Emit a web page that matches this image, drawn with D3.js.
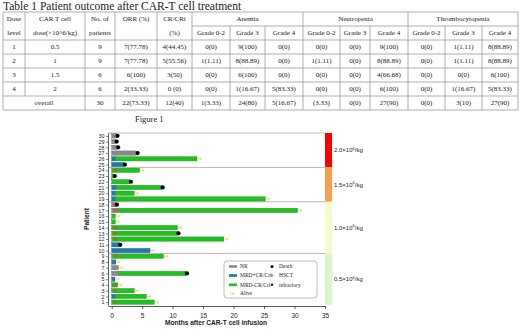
<!DOCTYPE html>
<html>
<head>
<meta charset="utf-8">
<script src="https://cdn.jsdelivr.net/npm/d3@7"></script>
<style>
body { margin: 0; background: #fff; }
svg { display: block; }
.serif { font-family: "Liberation Serif", "Times New Roman", serif; fill: #222; }
.sans { font-family: "Liberation Sans", Arial, sans-serif; fill: #222; }
</style>
</head>
<body>
<div id="chart"></div>
<script>
// ---- table data ----
var tableTitle = "Table 1 Patient outcome after CAR-T cell treatment";
var headTop = ["Dose", "CAR T cell", "No. of", "ORR (%)", "CR/CRi"];
var headBottom = ["level", "dose(×10^6/kg)", "patients", "", "(%)"];
var groupNames = ["Anemia", "Neutropenia", "Thrombocytopenia"];
var gradeNames = ["Grade 0-2", "Grade 3", "Grade 4"];
var tableRows = [
  ["1", "0.5", "9", "7(77.78)", "4(44.45)", "0(0)", "9(100)", "0(0)", "0(0)", "0(0)", "9(100)", "0(0)", "1(1.11)", "8(88.89)"],
  ["2", "1", "9", "7(77.78)", "5(55.56)", "1(1.11)", "8(88.89)", "0(0)", "1(1.11)", "0(0)", "8(88.89)", "0(0)", "1(1.11)", "8(88.89)"],
  ["3", "1.5", "6", "6(100)", "3(50)", "0(0)", "6(100)", "0(0)", "0(0)", "0(0)", "4(66.68)", "0(0)", "0(0)", "6(100)"],
  ["4", "2", "6", "2(33.33)", "0  (0)", "0(0)", "1(16.67)", "5(83.33)", "0(0)", "0(0)", "6(100)", "0(0)", "1(16.67)", "5(83.33)"]
];
var overallRow = ["overall", "30", "22(73.33)", "12(40)", "1(3.33)", "24(80)", "5(16.67)", "(3.33)", "0(0)", "27(90)", "0(0)", "3(10)", "27(90)"];

// ---- swimmer data (patients 1..30, months) ----
var patients = [1,2,3,4,5,6,7,8,9,10,11,12,13,14,15,16,17,18,19,20,21,22,23,24,25,26,27,28,29,30];
var firstState = ["MRD-","MRD+","MRD-","MRD-","MRD+","NR","NR","MRD+","MRD-","MRD+",
                  "MRD+","MRD-","MRD-","MRD-","MRD-","MRD-","NR","NR","MRD+","MRD+",
                  "MRD+","MRD-","MRD-","MRD-","MRD+","MRD+","NR","NR","NR","NR"];
var firstEnd = [7.0,0.6,3.7,1.0,0.55,1.1,1.1,0.7,8.5,6.3,
                1.25,18.4,10.8,10.8,0.6,0.6,1.0,0.7,0.6,0.6,
                0.8,3.0,0.35,4.6,2.0,0.6,4.1,0.9,0.65,0.8];
var secondEnd = [null,5.7,null,null,null,12.2,null,null,null,null,
                 null,null,null,null,null,null,30.5,null,25.2,3.7,
                 8.2,null,null,null,null,14.0,null,null,null,null];
var outcome = ["alive","alive","alive","alive","alive","death","alive","alive","alive","alive",
               "death","alive","death","alive","alive","alive","alive","death","alive","alive",
               "death","death","death","alive","death","alive","death","death","death","death"];
var hsct = [0.6,null,0.6,0.5,null,null,null,null,0.6,null,
            null,0.6,0.6,0.6,null,null,0.6,0.5,null,null,
            null,null,null,0.6,null,null,null,null,null,null];

var doseLabels = ["2.0", "1.5", "1.0", "0.5"];
var doseFirst = [25, 19, 10, 1];
var doseLast = [30, 24, 18, 9];

var stateNames = ["NR", "MRD+", "MRD-"];
var stateLegend = ["NR", "MRD+CR/Cri", "MRD-CR/Cri"];

// ---- svg ----
var svg = d3.select("#chart").append("svg")
    .attr("width", 520)
    .attr("height", 329);

// ================= table =================
var tbl = svg.append("g");
var colX = [3, 25, 85, 115, 157, 192, 230, 265, 303, 340, 370, 408, 445, 482, 518];
var tTop = 12, tMid = 26, tHead = 40, tBottom = 110;
var rowY = d3.scaleLinear().domain([0, 5]).range([tHead, tBottom]);

tbl.append("text").attr("class", "serif")
    .attr("x", 3).attr("y", 9.5)
    .style("font-size", "11.5px")
    .text(tableTitle);

var lineColor = "#999";
function hline(y, x1, x2) {
  tbl.append("line").attr("x1", x1).attr("x2", x2).attr("y1", y).attr("y2", y)
      .attr("stroke", lineColor).attr("stroke-width", 0.8);
}
function vline(x, y1, y2) {
  tbl.append("line").attr("x1", x).attr("x2", x).attr("y1", y1).attr("y2", y2)
      .attr("stroke", lineColor).attr("stroke-width", 0.8);
}

hline(tTop, colX[0], colX[14]);
hline(tMid, colX[5], colX[14]);
hline(tHead, colX[0], colX[14]);
d3.range(1, 6).forEach(function(i) { hline(rowY(i), colX[0], colX[14]); });

colX.forEach(function(x, i) {
  if (i === 1) vline(x, tTop, rowY(4));
  else if (i > 5 && i < 14 && (i - 5) % 3 !== 0) vline(x, tMid, tBottom);
  else vline(x, tTop, tBottom);
});

function cellText(str, x, y) {
  tbl.append("text").attr("class", "serif")
      .attr("x", x).attr("y", y)
      .attr("text-anchor", "middle")
      .attr("dominant-baseline", "central")
      .style("font-size", "7px")
      .text(str);
}

// header
headTop.forEach(function(t, i) {
  cellText(t, (colX[i] + colX[i + 1]) / 2, 19);
  cellText(headBottom[i], (colX[i] + colX[i + 1]) / 2, 33);
});
groupNames.forEach(function(g, k) {
  cellText(g, (colX[5 + k * 3] + colX[8 + k * 3]) / 2, 19);
  gradeNames.forEach(function(gn, j) {
    var c = 5 + k * 3 + j;
    cellText(gn, (colX[c] + colX[c + 1]) / 2, 33);
  });
});

// body
tableRows.forEach(function(r, ri) {
  r.forEach(function(v, ci) {
    cellText(v, (colX[ci] + colX[ci + 1]) / 2, (rowY(ri) + rowY(ri + 1)) / 2);
  });
});
overallRow.forEach(function(v, ci) {
  var cx = ci === 0 ? (colX[0] + colX[2]) / 2 : (colX[ci + 1] + colX[ci + 2]) / 2;
  cellText(v, cx, (rowY(4) + rowY(5)) / 2);
});

svg.append("text").attr("class", "serif")
    .attr("x", 135).attr("y", 122)
    .style("font-size", "8.5px")
    .text("Figure 1");

// ================= swimmer plot =================
var x = d3.scaleLinear().domain([-0.6, 35]).range([108, 325]);
var y = d3.scaleLinear().domain([0.5, 30.5]).range([305, 133]);
var barH = 4.3;

var color = d3.scaleOrdinal().domain(stateNames).range(["#8a8a8a", "#2379ad", "#22c022"]);
var edge = d3.scaleOrdinal().domain(stateNames).range(["#666", "#1a5f8a", "#189018"]);
var doseColor = d3.scaleOrdinal().domain(doseLabels).range(["#ff0000", "#fba04a", "#f8fbcb", "#d9f6cc"]);

var plot = svg.append("g");

// group separators
[30.5, 24.5, 18.5, 9.5].forEach(function(v) {
  plot.append("line")
      .attr("x1", x(-0.6)).attr("x2", x(35))
      .attr("y1", y(v)).attr("y2", y(v))
      .attr("stroke", "#b0b0b0").attr("stroke-width", 0.9);
});

// bars
var segs = [];
patients.forEach(function(p, i) {
  segs.push({p: p, s: firstState[i], a: 0, b: firstEnd[i]});
  if (secondEnd[i] !== null) segs.push({p: p, s: "MRD-", a: firstEnd[i], b: secondEnd[i]});
});

plot.selectAll(".bar")
  .data(segs)
  .enter().append("rect")
    .attr("x", function(d) { return x(d.a); })
    .attr("width", function(d) { return x(d.b) - x(d.a); })
    .attr("y", function(d) { return y(d.p) - barH / 2; })
    .attr("height", barH)
    .attr("fill", function(d) { return color(d.s); })
    .attr("stroke", function(d) { return edge(d.s); })
    .attr("stroke-width", 0.4);

function lastEnd(i) { return secondEnd[i] !== null ? secondEnd[i] : firstEnd[i]; }

// HSCT stars
patients.forEach(function(p, i) {
  if (hsct[i] === null) return;
  plot.append("path")
      .attr("d", d3.symbol(d3.symbolAsterisk, 10)())
      .attr("transform", "translate(" + x(hsct[i]) + "," + y(p) + ")")
      .attr("stroke", "#e0452a").attr("stroke-width", 0.7).attr("fill", "none");
});

// outcome markers
function arrow(g, cx, cy) {
  g.append("line").attr("x1", cx - 1.5).attr("x2", cx + 2).attr("y1", cy).attr("y2", cy)
      .attr("stroke", "#e2dc3a").attr("stroke-width", 0.8);
  g.append("path").attr("d", "M" + (cx + 0.5) + "," + (cy - 1.3) + "L" + (cx + 2.2) + "," + cy + "L" + (cx + 0.5) + "," + (cy + 1.3))
      .attr("stroke", "#e2dc3a").attr("stroke-width", 0.8).attr("fill", "none");
}
patients.forEach(function(p, i) {
  var e = lastEnd(i);
  if (outcome[i] === "death") {
    plot.append("circle").attr("cx", x(e) + 1).attr("cy", y(p)).attr("r", 2.1).attr("fill", "#000");
  } else {
    arrow(plot, x(e) + 2.2, y(p));
  }
});

// axes
var xAxis = plot.append("g")
    .attr("transform", "translate(0,306)")
    .call(d3.axisBottom(x).tickValues([0, 5, 10, 15, 20, 25, 30, 35]).tickSize(3).tickSizeOuter(0));
xAxis.select(".domain").attr("stroke", "#333").attr("stroke-width", 0.8);
xAxis.selectAll("line").attr("stroke", "#333").attr("stroke-width", 0.8);
xAxis.selectAll("text").attr("class", "sans").style("font-size", "6.5px").attr("dy", "0.9em");

var yAxis = plot.append("g")
    .attr("transform", "translate(108,0)")
    .call(d3.axisLeft(y).tickValues(patients).tickSize(2).tickPadding(1.5).tickSizeOuter(0));
yAxis.select(".domain").attr("stroke", "#333").attr("stroke-width", 0.8);
yAxis.selectAll("line").attr("stroke", "#333").attr("stroke-width", 0.6);
yAxis.selectAll("text").attr("class", "sans").style("font-size", "5.3px");

plot.append("text").attr("class", "sans")
    .attr("x", 216).attr("y", 325)
    .attr("text-anchor", "middle")
    .style("font-size", "6.6px").style("font-weight", "bold")
    .text("Months after CAR-T cell infusion");

plot.append("text").attr("class", "sans")
    .attr("transform", "translate(89,219) rotate(-90)")
    .attr("text-anchor", "middle")
    .style("font-size", "6.6px").style("font-weight", "bold")
    .text("Patient");

// dose colour strip
doseLabels.forEach(function(d, i) {
  var y1 = y(doseLast[i] + 0.5), y2 = y(doseFirst[i] - 0.5);
  plot.append("rect")
      .attr("x", 325).attr("width", 7)
      .attr("y", y1).attr("height", y2 - y1)
      .attr("fill", doseColor(d));
  var t = plot.append("text").attr("class", "sans")
      .attr("x", 334).attr("y", (y1 + y2) / 2 + 2)
      .style("font-size", "6px");
  t.append("tspan").text(d + "×10");
  t.append("tspan").attr("dy", -2.5).style("font-size", "4px").text("6");
  t.append("tspan").attr("dy", 2.5).text("/kg");
});

// legend
var lg = plot.append("g");
lg.append("rect")
    .attr("x", 224).attr("y", 261).attr("width", 93).attr("height", 37)
    .attr("rx", 3)
    .attr("fill", "#fff").attr("stroke", "#aaa").attr("stroke-width", 0.8);
var legY = [266.5, 275.5, 284.8, 293.6];
stateNames.forEach(function(s, i) {
  lg.append("rect").attr("x", 229).attr("y", legY[i] - 1.3).attr("width", 8).attr("height", 2.6)
      .attr("fill", color(s));
  lg.append("text").attr("class", "serif").attr("x", 240).attr("y", legY[i] + 1.8)
      .style("font-size", "5.5px").text(stateLegend[i]);
});
arrow(lg, 232, legY[3]);
lg.append("text").attr("class", "serif").attr("x", 240).attr("y", legY[3] + 1.8)
    .style("font-size", "5.5px").text("Alive");

lg.append("circle").attr("cx", 272).attr("cy", legY[0]).attr("r", 1.6).attr("fill", "#000");
lg.append("path")
    .attr("d", d3.symbol(d3.symbolAsterisk, 8)())
    .attr("transform", "translate(272," + legY[1] + ")")
    .attr("stroke", "#e0452a").attr("stroke-width", 0.6).attr("fill", "none");
lg.append("circle").attr("cx", 272).attr("cy", legY[2]).attr("r", 1.3).attr("fill", "#1a1a4a");
["Death", "HSCT", "refractory"].forEach(function(t, i) {
  lg.append("text").attr("class", "serif").attr("x", 279).attr("y", legY[i] + 1.8)
      .style("font-size", "5.5px").text(t);
});
</script>
</body>
</html>
